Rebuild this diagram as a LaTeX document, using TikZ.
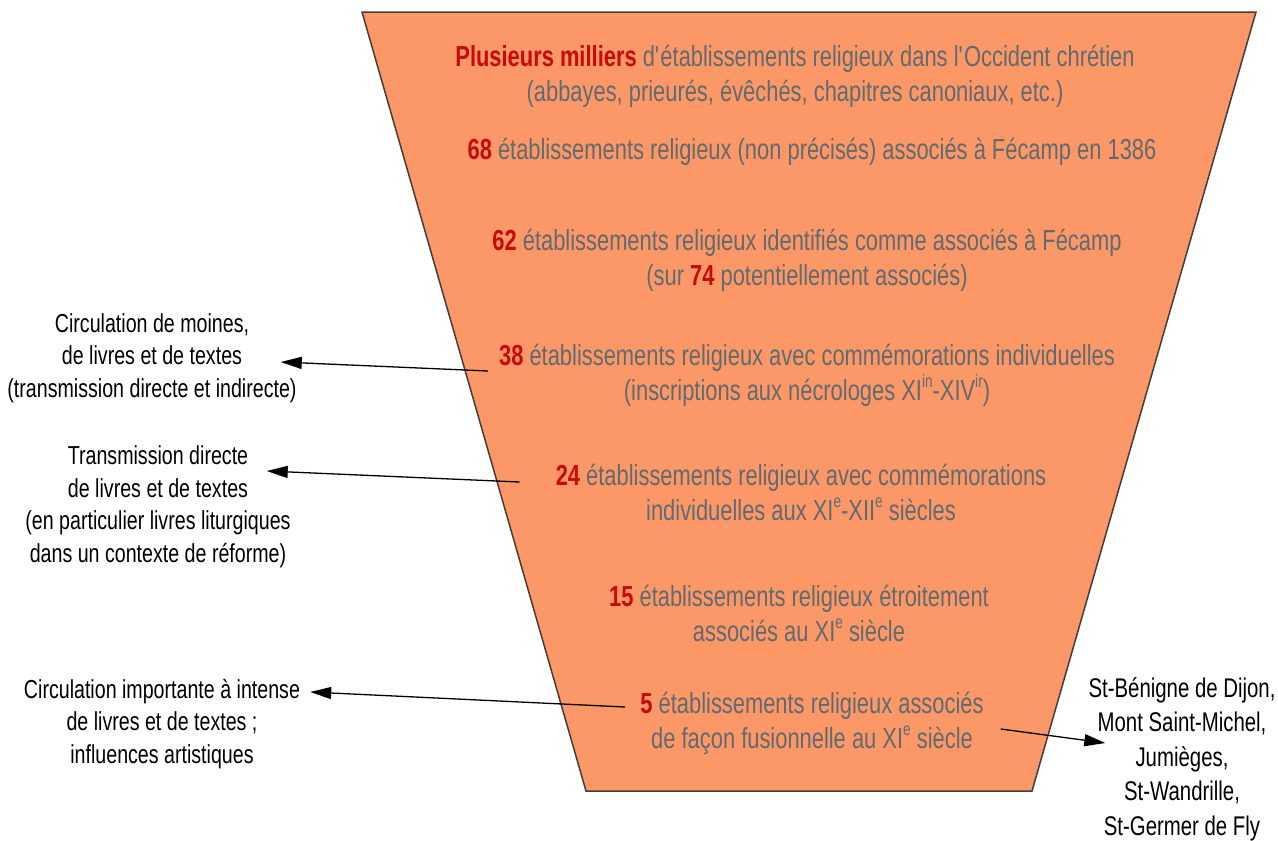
\documentclass[tikz,border=0pt]{standalone}
\usepackage{fontspec}
\setmainfont{Liberation Sans}[FakeStretch=0.755]
\usepackage{xcolor}
\usetikzlibrary{arrows.meta}

\definecolor{funnelfill}{RGB}{252,152,104}
\definecolor{funneldraw}{RGB}{70,60,55}
\definecolor{levelgray}{RGB}{98,106,110}
\definecolor{countred}{RGB}{200,10,10}
\newcommand{\cnt}[1]{\textcolor{countred}{\bfseries #1}}
\newcommand{\supx}[1]{\raisebox{0.42em}{\fontsize{18}{18}\selectfont #1}}

\begin{document}
\begin{tikzpicture}[
    x=1pt, y=-1pt,
    level/.style={align=center, text=levelgray, inner sep=0pt, font=\fontsize{29}{35}\selectfont},
    note/.style={align=center, text=black, inner sep=0pt, font=\fontsize{26}{32.5}\selectfont},
    place/.style={align=center, text=black, inner sep=0pt, font=\fontsize{27}{34.5}\selectfont},
    arrow/.style={-{Triangle[length=21pt, width=12pt]}, line width=1.3pt, draw=black}
]
    \useasboundingbox (0,0) rectangle (1278,841);

    % Funnel
    \draw [fill=funnelfill, draw=funneldraw, line width=1.5pt] (362,12) -- (1256,12) -- (1032,791) -- (586,791) -- cycle;

    % Levels (top to bottom)
    \node (all) [level] at (795,76) {\cnt{Plusieurs milliers} d\textquotesingle établissements religieux dans l\textquotesingle Occident chrétien\\(abbayes, prieurés, évêchés, chapitres canoniaux, etc.)};
    \node (n68) [level] at (812,152) {\cnt{68} établissements religieux (non précisés) associés à Fécamp en 1386};
    \node (n62) [level] at (807,260) {\cnt{62} établissements religieux identifiés comme associés à Fécamp\\(sur \cnt{74} potentiellement associés)};
    \node (n38) [level] at (807,375) {\cnt{38} établissements religieux avec commémorations individuelles\\(inscriptions aux nécrologes XI\supx{in}-XIV\supx{ir})};
    \node (n24) [level] at (801,492) {\cnt{24} établissements religieux avec commémorations\\individuelles aux XI\supx{e}-XII\supx{e} siècles};
    \node (n15) [level] at (799,613) {\cnt{15} établissements religieux étroitement\\associés au XI\supx{e} siècle};
    \node (n5) [level] at (812,723) {\cnt{5} établissements religieux associés\\de façon fusionnelle au XI\supx{e} siècle};

    % Side notes
    \node (monks) [note] at (152,358) {Circulation de moines,\\de livres et de textes\\(transmission directe et indirecte)};
    \node (liturgy) [note] at (158,507) {Transmission directe\\de livres et de textes\\(en particulier livres liturgiques\\dans un contexte de réforme)};
    \node (intense) [note] at (162,724) {Circulation importante à intense\\de livres et de textes ;\\influences artistiques};
    \node (abbeys) [place] at (1182,759) {St-Bénigne de Dijon,\\Mont Saint-Michel,\\Jumièges,\\St-Wandrille,\\St-Germer de Fly};

    % Arrows
    \draw [arrow] ([xshift=-11pt, yshift=4pt]n38.west) -- ([xshift=-16pt, yshift=-4pt]monks.east);
    \draw [arrow] ([xshift=-36pt, yshift=10pt]n24.west) -- ([xshift=-24pt, yshift=36pt]liturgy.east);
    \draw [arrow] ([xshift=-15pt, yshift=16pt]n5.west) -- ([xshift=10pt, yshift=32pt]intense.east);
    \draw [arrow] ([xshift=17pt, yshift=-6pt]n5.east) -- ([xshift=17pt, yshift=16pt]abbeys.west);
\end{tikzpicture}
\end{document}
